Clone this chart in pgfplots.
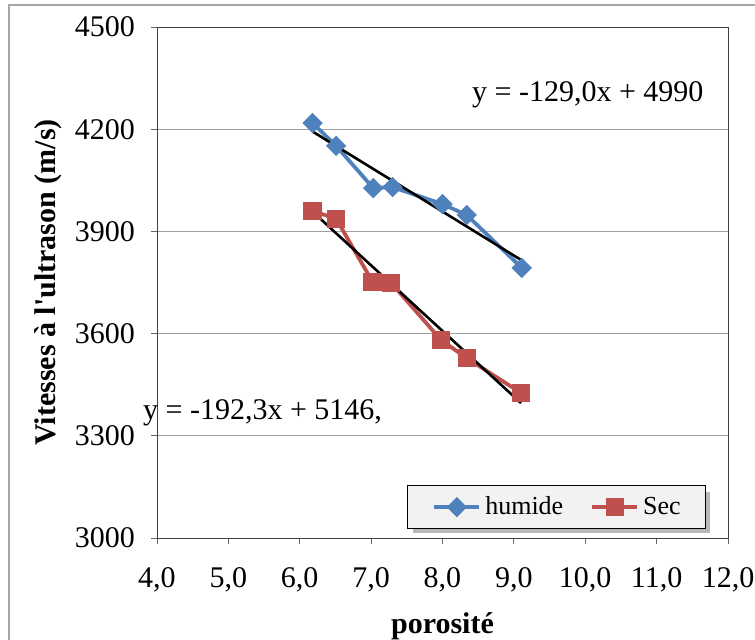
\documentclass[border=0pt]{standalone}
\usepackage{fontspec}
\setmainfont{Liberation Serif}
\usepackage{pgfplots}
\pgfplotsset{compat=1.18}
\usetikzlibrary{calc}
\definecolor{cBlue}{HTML}{4F81BD}
\definecolor{cRed}{HTML}{C0504D}

\begin{document}
\begin{tikzpicture}
\begin{axis}[
  name=ax,
  scale only axis,
  width=285.5pt, height=255.5pt,
  xmin=4, xmax=12, ymin=3000, ymax=4500,
  xtick={4,5,...,12},
  ytick={3000,3300,3600,3900,4200,4500},
  axis line style={black!75},
  tick style={gray!80!black, thin},
  tick align=outside,
  major tick length=3pt,
  xtick pos=bottom, ytick pos=left,
  ymajorgrids=true,
  grid style={gray!75, thin},
  x tick label style={/pgf/number format/fixed, /pgf/number format/fixed zerofill,
    /pgf/number format/precision=1, /pgf/number format/use comma},
  y tick label style={/pgf/number format/1000 sep={}},
  /pgf/number format/assume math mode=true,
  tick label style={font=\fontsize{15}{17}\selectfont},
  xticklabel style={yshift=-8pt},
  yticklabel style={xshift=-4.5pt},
  xlabel={\textbf{porosité}},
  ylabel={\textbf{Vitesses à l\textquotesingle ultrason (m/s)}},
  label style={font=\fontsize{15}{17}\selectfont},
  xlabel style={at={(axis description cs:0.5,-0.186)}, anchor=base},
  ylabel style={at={(axis description cs:-0.19,0.5)}, anchor=center},
  clip=false,
  legend style={at={(0.9615,0.0176)}, anchor=south east, draw=black, fill=gray!10,
    legend columns=2, font=\fontsize{13}{15}\selectfont,
    nodes={inner sep=0pt},
    /tikz/every odd column/.append style={column sep=2pt},
    /tikz/every even column/.append style={column sep=13.5pt},
    inner xsep=12.5pt, inner ysep=5.5pt},
  legend image code/.code={\draw[mark repeat=2,mark phase=2] plot coordinates {(0pt,0pt)(11.25pt,0pt)(22.5pt,0pt)};},
]
% legend shadow
\fill[gray!55] ([xshift=2pt,yshift=-2pt]rel axis cs:0.4415,0.0176) rectangle ([xshift=2pt,yshift=-2pt]rel axis cs:0.9615,0.098);
% humide
\addplot[color=cBlue, line width=1.9pt, mark=square*, mark size=2.65pt, mark options={fill=cBlue, solid, rotate=45}]
  coordinates {(6.18,4218)(6.51,4151)(7.03,4027)(7.30,4030)(8.00,3980)(8.34,3948)(9.11,3793)};
\addlegendentry{humide}
% Sec
\addplot[color=cRed, line width=1.9pt, mark=square*, mark size=3.6pt, mark options={fill=cRed, solid}]
  coordinates {(6.18,3960)(6.51,3937)(7.02,3752)(7.28,3749)(7.98,3581)(8.34,3528)(9.10,3426)};
\addlegendentry{Sec}
% trend lines
\addplot[black, line width=1.3pt, forget plot] coordinates {(6.18,4193)(9.11,3815)};
\addplot[black, line width=1.3pt, forget plot] coordinates {(6.18,3958)(9.10,3396)};

\node[anchor=base west, inner sep=0pt, font=\fontsize{15}{17}\selectfont] at (axis cs:8.41,4280) {y = -129,0x + 4990};
\node[anchor=base west, inner sep=0pt, font=\fontsize{15}{17}\selectfont] at (axis cs:3.80,3349) {y = -192,3x + 5146,};
\end{axis}
\draw[gray!70, line width=1pt] ($(ax.south west)+(-74pt,-52pt)$) -- ($(ax.south west)+(-74pt,266.5pt)$) -- ($(ax.south west)+(300pt,266.5pt)$);
\pgfresetboundingbox
\path ($(ax.south west)+(-78.5pt,-51pt)$) rectangle ($(ax.south west)+(299pt,269pt)$);
\end{tikzpicture}
\end{document}
